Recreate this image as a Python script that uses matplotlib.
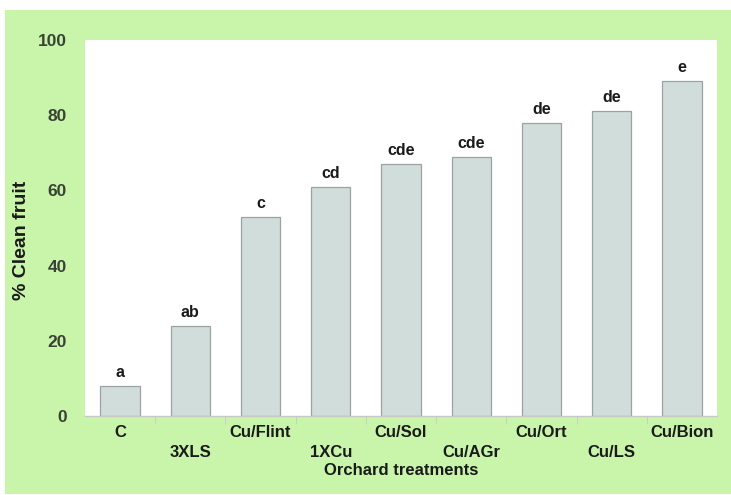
import numpy as np
import matplotlib.pyplot as plt
from matplotlib.patches import Rectangle

treatments = ['C', '3XLS', 'Cu/Flint', '1XCu', 'Cu/Sol', 'Cu/AGr', 'Cu/Ort', 'Cu/LS', 'Cu/Bion']
clean_fruit = [8, 24, 53, 61, 67, 69, 78, 81, 89]
letters = ['a', 'ab', 'c', 'cd', 'cde', 'cde', 'de', 'de', 'e']
y_ticks = [0, 20, 40, 60, 80, 100]

plt.rcParams['font.family'] = ['Liberation Sans', 'DejaVu Sans']

fig = plt.figure(figsize=(7.31, 4.95), dpi=100, facecolor='white')
# green panel behind the plot
fig.patches.append(Rectangle((5 / 731, 1 / 495), 726 / 731, 484 / 495,
                             transform=fig.transFigure, facecolor='#c8f5aa',
                             edgecolor='none', zorder=-1))

ax = fig.add_axes([85 / 731, 79 / 495, 632 / 731, 376 / 495])
ax.set_zorder(1)
ax.set_facecolor('white')

x = np.arange(len(treatments))
ax.bar(x, clean_fruit, width=0.56, color='#d1dddb', edgecolor='#9aa3a2', linewidth=0.9, zorder=2)

for xi, val, lab in zip(x, clean_fruit, letters):
    ax.text(xi, val + 1.6, lab, ha='center', va='bottom', fontsize=11.5,
            fontweight='bold', color='#1a1a1a')

ax.set_xlim(-0.5, len(treatments) - 0.5)
ax.set_ylim(0, 100)

for s in ['top', 'right', 'left']:
    ax.spines[s].set_visible(False)
ax.spines['bottom'].set_color('#c8c8c8')
ax.spines['bottom'].set_linewidth(1)

ax.set_yticks(y_ticks)
ax.set_yticklabels([str(t) for t in y_ticks], fontsize=12.5, fontweight='bold', color='#3a4236')
ax.tick_params(axis='y', length=0, pad=13)

ax.set_xticks(x)
ax.set_xticklabels([])
ax.set_xticks(x[:-1] + 0.5, minor=True)
ax.tick_params(axis='x', which='major', length=0)
ax.tick_params(axis='x', which='minor', length=6, color='#c8c8c8', direction='out')

# staggered category labels
for i, name in enumerate(treatments):
    yoff = -0.045 if i % 2 == 0 else -0.098
    ax.text(i, yoff, name, transform=ax.get_xaxis_transform(), ha='center', va='center',
            fontsize=12, fontweight='bold', color='#1a1a1a')

ax.text(0.5, -0.145, 'Orchard treatments', transform=ax.transAxes, ha='center', va='center',
        fontsize=12, fontweight='bold', color='#1a1a1a')

fig.text(22 / 731, 1 - 240 / 495, '% Clean fruit', rotation=90, ha='center', va='center',
         fontsize=14, fontweight='bold', color='#1a1a1a')

fig.savefig('out.png', dpi=100, facecolor=fig.get_facecolor())
